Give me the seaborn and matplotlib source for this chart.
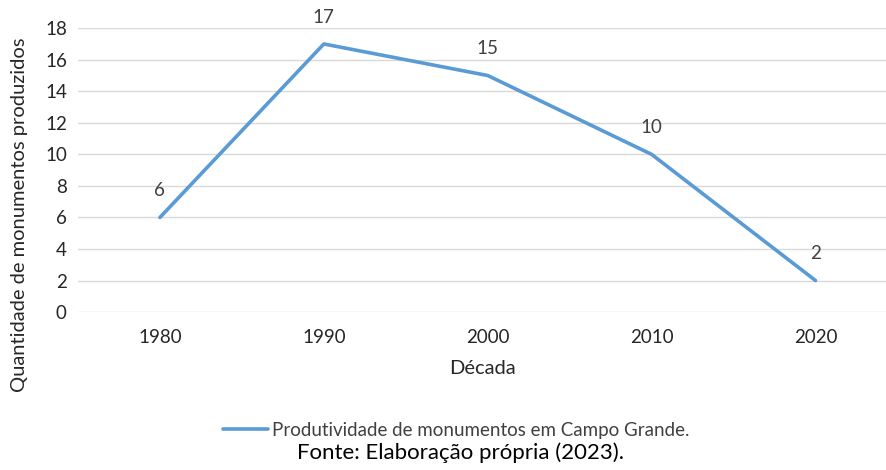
import matplotlib
matplotlib.use("Agg")
import matplotlib.pyplot as plt
import seaborn as sns
import pandas as pd

decadas = ["1980", "1990", "2000", "2010", "2020"]
quantidade = [6, 17, 15, 10, 2]
serie = "Produtividade de monumentos em Campo Grande."

df = pd.DataFrame({"Década": decadas, "Quantidade": quantidade})

sns.set_theme(style="white")
plt.rcParams["font.family"] = ["Lato", "DejaVu Sans"]

fig = plt.figure(figsize=(8.86, 4.70), dpi=100)
ax = fig.add_axes([0.088, 0.336, 0.912, 0.604])

sns.lineplot(data=df, x="Década", y="Quantidade", color="#5B9BD5",
             linewidth=2.6, sort=False, ax=ax, label=serie, legend=False)

for i, v in enumerate(quantidade):
    ax.annotate(str(v), (i, v), xytext=(0, 13), textcoords="offset points",
                ha="center", va="bottom", fontsize=13.5, color="#404040")

ax.set_ylim(0, 18)
ax.set_yticks(range(0, 19, 2))
ax.set_xlim(-0.5, 4.43)
ax.yaxis.grid(True, color="#D9D9D9", linewidth=1)
ax.set_axisbelow(True)
for s in ax.spines.values():
    s.set_visible(False)
ax.tick_params(axis="both", length=0, labelsize=13.5, labelcolor="#262626")
ax.tick_params(axis="x", pad=12)
ax.tick_params(axis="y", pad=8)

ax.set_xlabel("Década", fontsize=14.5, color="#262626", labelpad=10)
ax.set_ylabel("Quantidade de monumentos produzidos", fontsize=14.5, color="#262626")
ax.yaxis.set_label_coords(-0.062, 0.342)

handles, labels = ax.get_legend_handles_labels()
fig.legend(handles, labels, loc="center", bbox_to_anchor=(0.515, 0.085),
           frameon=False, fontsize=13.5, handlelength=2.4, handletextpad=0.2,
           labelcolor="#404040")

fig.text(0.52, 0.015, "Fonte: Elaboração própria (2023).", ha="center", va="bottom",
         fontsize=16, color="black")

fig.savefig("out.png", dpi=100)
